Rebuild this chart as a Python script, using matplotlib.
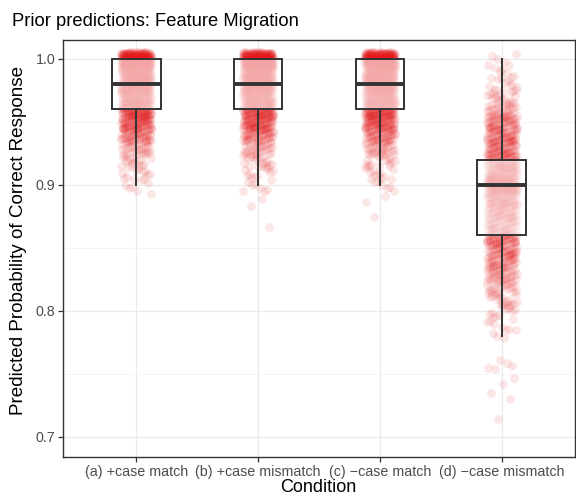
import numpy as np
import matplotlib
matplotlib.use("Agg")
import matplotlib.pyplot as plt

plt.rcParams['font.family'] = ['Liberation Sans', 'DejaVu Sans']

# ---- data ----
conditions = ["(a) +case match", "(b) +case mismatch", "(c) \u2212case match", "(d) \u2212case mismatch"]

vals_a = [1.00, 0.99, 0.98, 0.97, 0.96, 0.95, 0.94, 0.93, 0.92, 0.91, 0.90, 0.89]
cnts_a = [260, 150, 130, 110, 95, 85, 55, 30, 18, 12, 7, 1]

vals_b = [1.00, 0.99, 0.98, 0.97, 0.96, 0.95, 0.94, 0.93, 0.92, 0.91, 0.90, 0.89, 0.88, 0.87]
cnts_b = [260, 150, 130, 110, 95, 85, 55, 30, 18, 12, 7, 2, 1, 1]

vals_c = [1.00, 0.99, 0.98, 0.97, 0.96, 0.95, 0.94, 0.93, 0.92, 0.91, 0.90, 0.89, 0.88]
cnts_c = [260, 150, 130, 110, 95, 85, 55, 30, 18, 12, 7, 2, 1]

vals_d = [1.00, 0.99, 0.98, 0.97, 0.96, 0.95, 0.94, 0.93, 0.92, 0.91, 0.90, 0.89, 0.88,
          0.87, 0.86, 0.85, 0.84, 0.83, 0.82, 0.81, 0.80, 0.79, 0.78, 0.76, 0.75, 0.74, 0.73, 0.71]
cnts_d = [5, 8, 10, 18, 30, 50, 55, 55, 60, 80, 120, 75, 65,
          55, 55, 50, 45, 35, 25, 18, 12, 7, 4, 4, 2, 2, 1, 1]

groups = [(vals_a, cnts_a), (vals_b, cnts_b), (vals_c, cnts_c), (vals_d, cnts_d)]

point_color = '#E41A1C'

# ---- figure ----
W, H = 576, 497
fig = plt.figure(figsize=(W / 100, H / 100), dpi=100)
ax = fig.add_axes([63 / W, 1 - 457 / H, 512 / W, 417 / H])

ax.set_xlim(0.4, 4.6)
ax.set_ylim(0.7 - 20 / 1260, 1.0 + 19 / 1260)

# grid (theme_bw)
ax.set_axisbelow(True)
ax.set_yticks([0.7, 0.8, 0.9, 1.0])
ax.set_yticks([0.75, 0.85, 0.95], minor=True)
ax.set_xticks(np.arange(1, 5))
ax.grid(which='major', color='#EBEBEB', linewidth=1.0)
ax.grid(which='minor', axis='y', color='#F2F2F2', linewidth=0.55)

# jittered points (deterministic low-discrepancy jitter)
phi = (np.sqrt(5) - 1) / 2
rt2 = np.sqrt(2) - 1
datasets = []
for gi, (vals, cnts) in enumerate(groups):
    y = np.repeat(np.array(vals, dtype=float), cnts)
    datasets.append(y)
    n = len(y)
    k = np.arange(n) + 1 + gi * 1000
    jx = (np.mod(k * phi, 1.0) - 0.5) * 2 * 0.125
    jy = (np.mod(k * rt2, 1.0) - 0.5) * 2 * 0.0055
    ax.scatter(gi + 1 + jx, y + jy, s=40, color=point_color, alpha=0.1,
               linewidths=0, zorder=2)

# boxplots with semi-transparent white fill on top of points
bp = ax.boxplot(datasets, positions=np.arange(1, 5), widths=0.4, whis=1.5,
                showfliers=False, patch_artist=True, showcaps=False,
                manage_ticks=False, zorder=3)
for b in bp['boxes']:
    b.set_facecolor((1, 1, 1, 0.6))
    b.set_edgecolor('#333333')
    b.set_linewidth(1.4)
for w in bp['whiskers']:
    w.set_color('#333333')
    w.set_linewidth(1.4)
for m in bp['medians']:
    m.set_color('#333333')
    m.set_linewidth(2.8)
    m.set_solid_capstyle('butt')

# axes styling
for s in ax.spines.values():
    s.set_color('#333333')
    s.set_linewidth(1.0)
ax.set_xticklabels(conditions)
ax.set_yticklabels(['0.7', '0.8', '0.9', '1.0'])
ax.tick_params(axis='both', which='major', length=3.5, width=0.9, color='#333333',
               labelsize=10.3, labelcolor='#4D4D4D', pad=2)
ax.tick_params(axis='y', which='minor', length=0)

ax.set_xlabel('Condition', fontsize=13, color='black')
ax.set_ylabel('Predicted Probability of Correct Response', fontsize=13.6, color='black')
ax.xaxis.label.set_verticalalignment('center')
ax.yaxis.label.set_verticalalignment('center')
ax.xaxis.set_label_coords((318 - 63) / 512, -(488 - 457) / 417)
ax.yaxis.set_label_coords(-(63 - 19) / 512, (457 - 240) / 417)

fig.text(12 / W, 1 - 26 / H, 'Prior predictions: Feature Migration', fontsize=13.2,
         ha='left', va='baseline', color='black')

fig.savefig('out.png', dpi=100, facecolor='white')
